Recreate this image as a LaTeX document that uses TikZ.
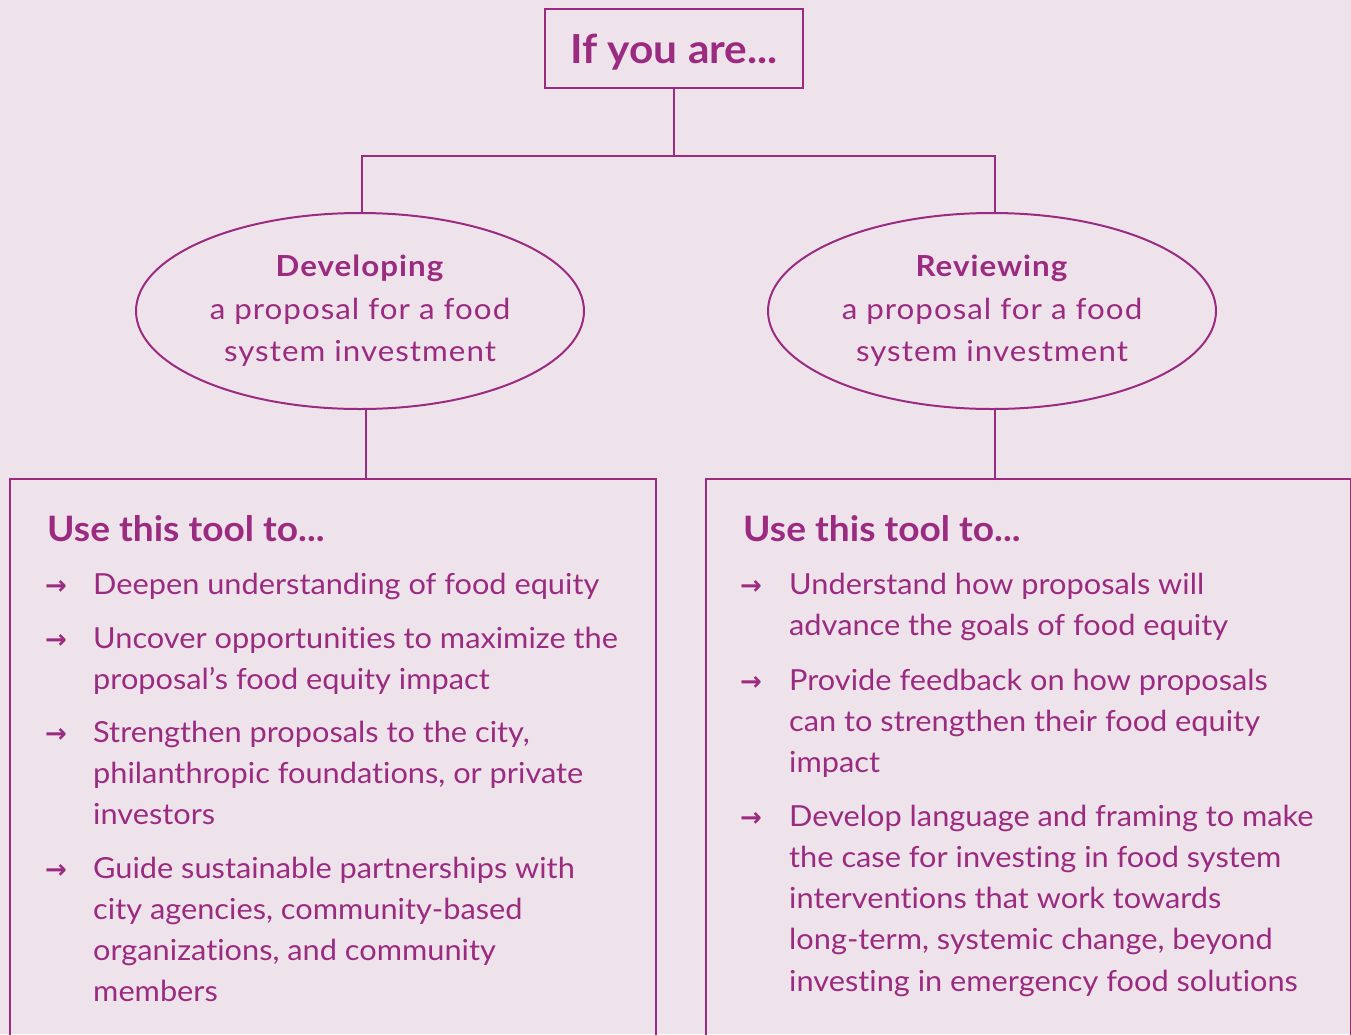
\documentclass[tikz,border=0pt]{standalone}
\usepackage{fontspec}
\setmainfont[FakeStretch=1.06,Ligatures=NoCommon,Contextuals=NoAlternate]{Lato}
\newfontfamily\rolefont[FakeStretch=1.08,LetterSpace=3.5,Ligatures=NoCommon,Contextuals=NoAlternate]{Lato}
\newfontfamily\arrowfont{DejaVu Sans}
\usetikzlibrary{shapes.geometric}
\definecolor{plum}{HTML}{9B2B80}
\definecolor{paper}{HTML}{EEE3EB}
\newcommand{\bodysize}{\fontsize{29}{41.3}\selectfont}
\newcommand{\itemtext}[1]{\parbox[t]{600pt}{\raggedright\bodysize #1}}
\begin{document}
\begin{tikzpicture}[x=1pt,y=-1pt,
  every node/.style={text=plum},
  link/.style={draw=plum,line width=2pt},
  topbox/.style={draw=plum,line width=2pt,minimum width=258pt,minimum height=79pt,
    text height=29pt,text depth=0pt,inner sep=0pt,font=\fontsize{40}{48}\selectfont\bfseries},
  role/.style={ellipse,draw=plum,line width=2pt,minimum width=448pt,minimum height=196pt,
    inner sep=0pt,align=center,font=\rolefont\fontsize{29}{42.5}\selectfont},
  panel/.style={draw=plum,line width=2pt,minimum height=620pt,inner sep=0pt,anchor=north west},
  heading/.style={anchor=base west,inner sep=0pt,font=\fontsize{35}{40}\selectfont\bfseries},
  bullet/.style={anchor=base west,inner sep=0pt,font=\arrowfont\fontsize{26}{26}\selectfont\bfseries},
  entry/.style={anchor=base west,inner sep=0pt}]
\fill[paper] (0,0) rectangle (1351,1034);
\useasboundingbox (0,0) rectangle (1351,1034);

% top question
\node[topbox] (top) at (674,48.5) {If you are...};

% the two roles
\node[role] (dev) at (360,311) {\textbf{Developing}\\a proposal for a food\\system investment};
\node[role] (rev) at (992,311) {\textbf{Reviewing}\\a proposal for a food\\system investment};

% the two panels
\node[panel,minimum width=646pt] (lp) at (9,478) {};
\node[panel,minimum width=645pt] (rp) at (705,478) {};

% connectors
\coordinate (fork) at (674,156);
\draw[link] (top.south) -- (fork);
\draw[link] (fork) -| ([xshift=2pt]dev.north);
\draw[link] (fork) -| ([xshift=3pt]rev.north);
\draw[link] ([xshift=6pt]dev.south) -- ([xshift=6pt]dev.south |- lp.north);
\draw[link] ([xshift=3pt]rev.south) -- ([xshift=3pt]rev.south |- rp.north);

% left panel
\node[heading] (lh) at (47,541) {Use this tool to...};
\node[bullet] (la1) at (45,594) {→};
\node[entry] (lt1) at (93,594) {\itemtext{Deepen understanding of food equity}};
\node[bullet] (la2) at (45,648) {→};
\node[entry] (lt2) at (93,648) {\itemtext{Uncover opportunities to maximize the\\proposal’s food equity impact}};
\node[bullet] (la3) at (45,742) {→};
\node[entry] (lt3) at (93,742) {\itemtext{Strengthen proposals to the city,\\philanthropic foundations, or private\\investors}};
\node[bullet] (la4) at (45,878) {→};
\node[entry] (lt4) at (93,878) {\itemtext{Guide sustainable partnerships with\\city agencies, community-based\\organizations, and community\\members}};

% right panel
\node[heading] (rh) at (743,541) {Use this tool to...};
\node[bullet] (ra1) at (740,594) {→};
\node[entry] (rt1) at (789,594) {\itemtext{Understand how proposals will\\advance the goals of food equity}};
\node[bullet] (ra2) at (740,690) {→};
\node[entry] (rt2) at (789,690) {\itemtext{Provide feedback on how proposals\\can to strengthen their food equity\\impact}};
\node[bullet] (ra3) at (740,826) {→};
\node[entry] (rt3) at (789,826) {\itemtext{Develop language and framing to make\\the case for investing in food system\\interventions that work towards\\long-term, systemic change, beyond\\investing in emergency food solutions}};
\end{tikzpicture}
\end{document}
